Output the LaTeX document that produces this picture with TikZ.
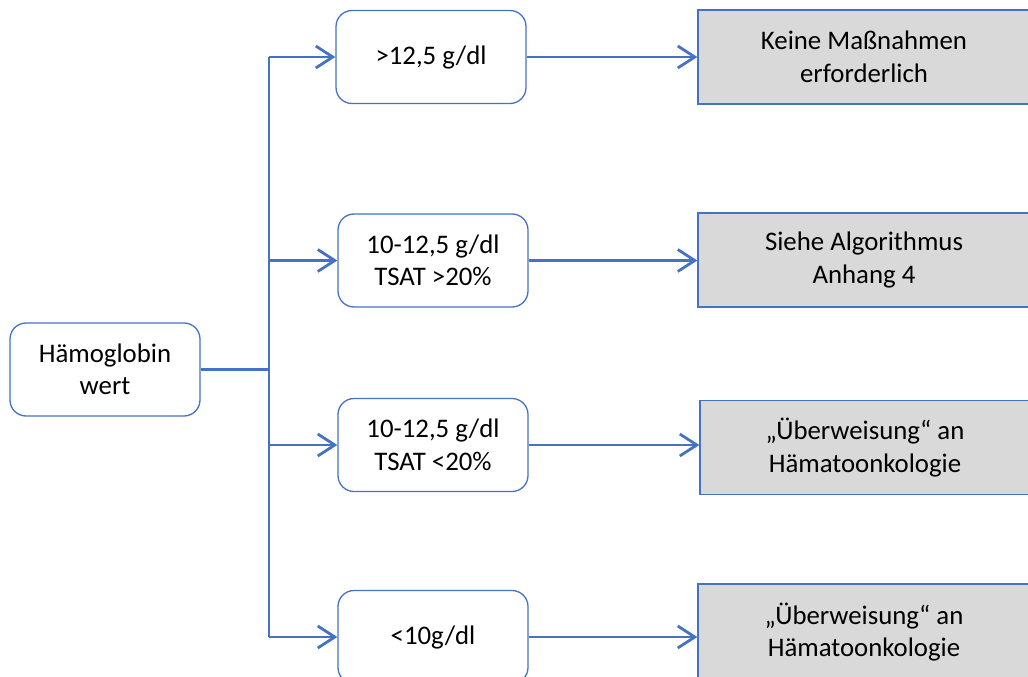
\documentclass[tikz,border=0pt]{standalone}
\usepackage{fontspec}
\setmainfont{Carlito}
\usetikzlibrary{arrows.meta,calc}
\definecolor{lblue}{HTML}{4472C4}
\definecolor{lgray}{HTML}{D9D9D9}
\tikzset{
  txt/.style={font=\fontsize{26.8}{32.5}\selectfont, align=center, text=black},
  rbox/.style={txt, draw=lblue, line width=1.3pt, rounded corners=16pt, fill=white,
    minimum width=190pt, minimum height=93pt, inner sep=0pt},
  gbox/.style={txt, draw=lblue, line width=1.3pt, fill=lgray,
    minimum width=332pt, minimum height=94pt, inner sep=0pt},
  conn/.style={draw=lblue, line width=2.8pt},
  arr/.style={conn, -{Straight Barb[length=17pt,width=22pt]}}
}
\begin{document}
\begin{tikzpicture}[x=1pt,y=-1pt]
\useasboundingbox (0,0) rectangle (1028,677);
% left node
\node[rbox] (h) at (105,369.5) {Hämoglobin\\wert};
% middle nodes
\node[rbox] (m1) at (431,57) {>12,5 g/dl};
\node[rbox] (m2) at (433,260.5) {10-12,5 g/dl\\TSAT >20\%};
\node[rbox] (m3) at (433,445) {10-12,5 g/dl\\TSAT <20\%};
\node[rbox] (m4) at (433,637) {<10g/dl};
% right nodes
\node[gbox] (r1) at (864,57) {Keine Maßnahmen\\erforderlich};
\node[gbox] (r2) at (864,260) {Siehe Algorithmus\\Anhang 4};
\node[gbox,minimum width=330pt] (r3) at (865,447.5) {„Überweisung“ an\\Hämatoonkologie};
\node[gbox,minimum height=96pt] (r4) at (864,632) {„Überweisung“ an\\Hämatoonkologie};
% trunk
\coordinate (tr) at (269,369.5);
\draw[conn] (h.east) -- (tr);
\draw[conn] (tr |- m1.west) -- (tr |- m4.west);
\draw[arr] (tr |- m1.west) -- (m1.west);
\draw[arr] (tr |- m2.west) -- (m2.west);
\draw[arr] (tr |- m3.west) -- (m3.west);
\draw[arr] (tr |- m4.west) -- (m4.west);
% right arrows
\draw[arr] (m1.east) -- (m1.east -| r1.west);
\draw[arr] (m2.east) -- (m2.east -| r2.west);
\draw[arr] (m3.east) -- (m3.east -| r3.west);
\draw[arr] (m4.east) -- (m4.east -| r4.west);
\end{tikzpicture}
\end{document}
